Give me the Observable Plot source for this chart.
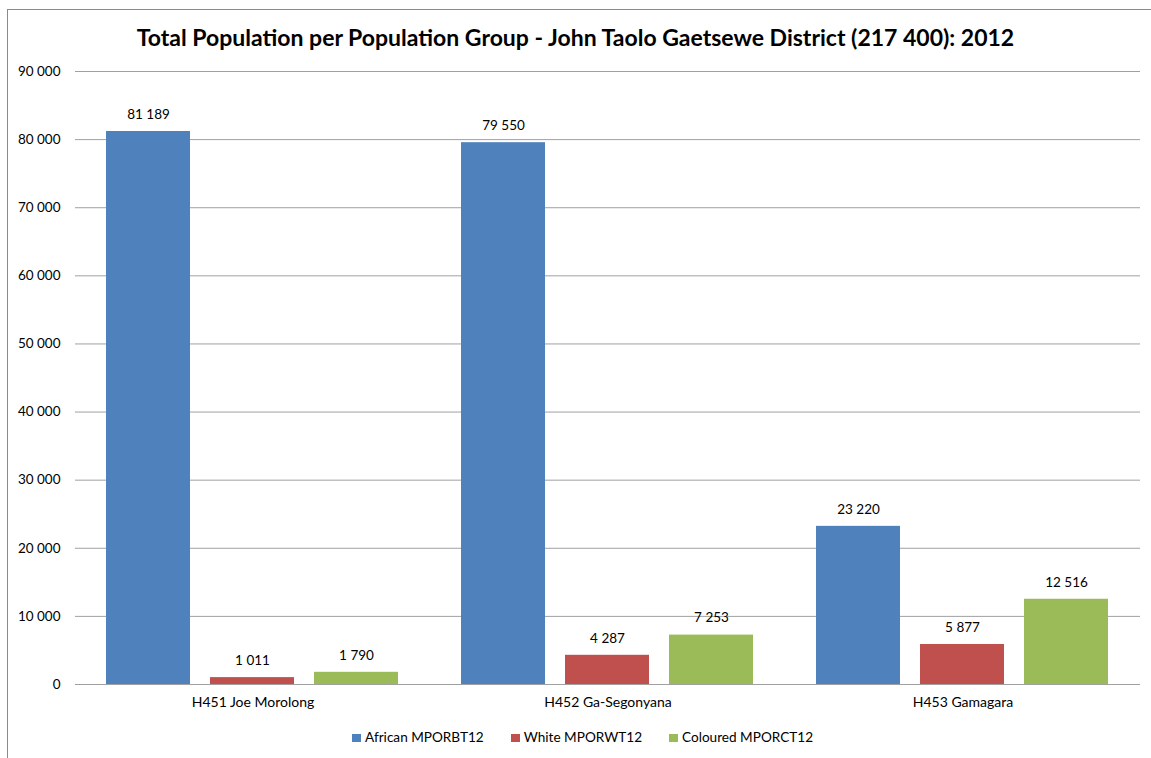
<!DOCTYPE html>
<html><head><meta charset="utf-8">
<script src="https://cdn.jsdelivr.net/npm/d3@7"></script>
<script src="https://cdn.jsdelivr.net/npm/@observablehq/plot@0.6"></script>
<style>
body{margin:0;background:#fff;font-family:Lato,"Open Sans",sans-serif;width:1151px;height:758px;overflow:hidden;position:relative;}
#frame{position:absolute;left:7px;top:9px;width:1150px;height:760px;border-left:1px solid #8a8a8a;border-top:1px solid #8a8a8a;box-sizing:border-box;z-index:5;pointer-events:none;}
#title{position:absolute;left:0;top:23px;width:1151px;text-align:center;font-weight:bold;font-size:23px;line-height:28px;color:#000;}
#chart{position:absolute;left:0;top:60px;}
#legend{position:absolute;left:352px;top:729px;display:flex;font-size:13.6px;line-height:17px;color:#000;}
.item{display:flex;align-items:center;margin-right:27px;}
.sw{width:9px;height:8px;margin-right:4px;}
</style>
</head><body>
<div id="frame"></div>
<div id="title">Total Population per Population Group - John Taolo Gaetsewe District (217 400): 2012</div>
<div id="chart"></div>
<div id="legend"></div>
<script>
const groups = ["H451 Joe Morolong", "H452 Ga-Segonyana", "H453 Gamagara"];
const series = ["African MPORBT12", "White MPORWT12", "Coloured MPORCT12"];
const african = [81189, 79550, 23220];
const white = [1011, 4287, 5877];
const coloured = [1790, 7253, 12516];
const yTicks = [0, 10000, 20000, 30000, 40000, 50000, 60000, 70000, 80000, 90000];
const colors = ["#4F81BD", "#C0504D", "#9BBB59"];

const seriesValues = [african, white, coloured];
const data = [];
groups.forEach((g, gi) => series.forEach((s, si) => data.push({group: g, series: s, value: seriesValues[si][gi]})));

const fmt = v => d3.format(",")(v).replace(/,/g, " ");

const plot = Plot.plot({
  width: 1151,
  height: 660,
  marginLeft: 75,
  marginRight: 11,
  marginTop: 11,
  marginBottom: 36,
  style: {fontFamily: "Lato, 'Open Sans', sans-serif", fontSize: "13px", color: "#000", background: "transparent"},
  fx: {domain: groups, padding: 0, label: null, axis: null},
  x: {domain: series, paddingInner: 0.19, paddingOuter: 0.3, axis: null},
  y: {domain: [0, 90000], ticks: yTicks, label: null, axis: null},
  color: {domain: series, range: colors},
  marks: [
    Plot.ruleY(yTicks, {stroke: "#a0a0a0", strokeWidth: 1}),
    Plot.barY(data, {fx: "group", x: "series", y: "value", fill: "series"}),
    Plot.text(data, {fx: "group", x: "series", y: "value", text: d => fmt(d.value), dy: -17, fontSize: 13.5, fill: "#000"}),
    Plot.axisY({ticks: yTicks, tickFormat: fmt, tickSize: 0, tickPadding: 15, label: null, fontSize: 13.5}),
    Plot.axisFx({anchor: "bottom", tickSize: 0, tickPadding: 13, label: null, fontSize: 14})
  ]
});
document.getElementById("chart").appendChild(plot);

const legend = document.getElementById("legend");
series.forEach((s, i) => {
  const it = document.createElement("div");
  it.className = "item";
  it.innerHTML = `<span class="sw" style="background:${colors[i]}"></span><span>${s}</span>`;
  legend.appendChild(it);
});
</script>
</body></html>
